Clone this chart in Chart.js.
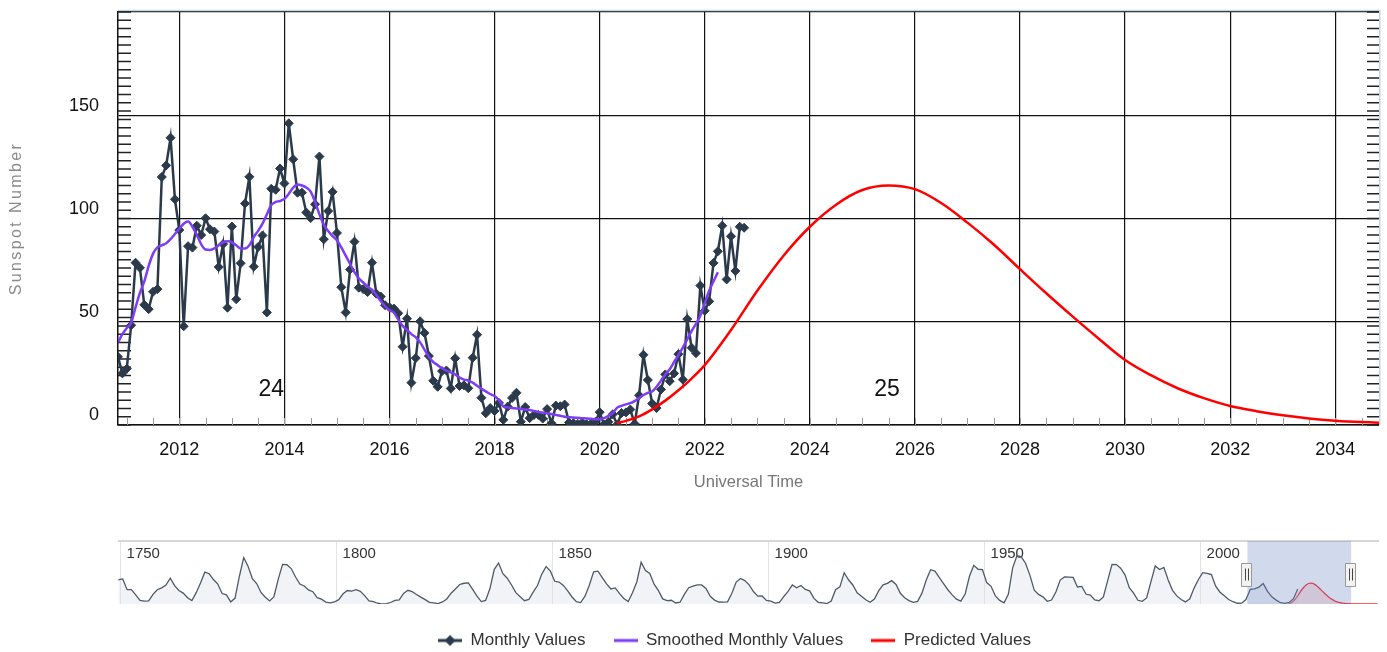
<!DOCTYPE html>
<html><head><meta charset="utf-8">
<script src="https://cdn.jsdelivr.net/npm/chart.js@4/dist/chart.umd.min.js"></script>
<style>
html,body{margin:0;padding:0;background:#fff;overflow:hidden;width:1387px;height:652px;}
#main{position:absolute;left:0;top:0;width:1387px;height:520px;}
#nav{position:absolute;left:0;top:520px;width:1387px;height:139px;}
</style></head><body>
<div id="main"><canvas id="c1"></canvas></div>
<div id="nav"><canvas id="c2"></canvas></div>
<script>
// ---------------- DATA ----------------
const seriesNames = ['Monthly Values', 'Smoothed Monthly Values', 'Predicted Values'];

// Monthly values, first month = Nov 2010
const monthlyStart = [2010, 11];
const monthlyValues = [
  33, 25,
  27.3, 48.3, 78.6, 76.1, 58.2, 56.1, 64.5, 65.8, 120.1, 125.7, 139.1, 109.3,
  94.4, 47.8, 86.6, 85.9, 96.5, 92.0, 100.1, 94.8, 93.7, 76.5, 87.6, 56.8,
  96.1, 60.9, 78.3, 107.3, 120.2, 76.7, 86.2, 91.8, 54.5, 114.4, 113.9, 124.2,
  117.0, 146.1, 128.7, 112.5, 112.5, 102.9, 100.2, 106.9, 130.0, 90.0, 103.6, 112.9,
  93.0, 66.7, 54.5, 75.3, 88.8, 66.5, 65.8, 64.4, 78.6, 63.6, 62.2, 58.0,
  57.0, 56.4, 54.1, 37.9, 51.5, 20.5, 32.4, 50.2, 44.6, 33.4, 21.4, 18.5,
  26.1, 26.4, 17.7, 32.3, 18.9, 19.2, 17.8, 32.6, 43.7, 13.2, 5.7, 8.2,
  6.8, 10.7, 2.5, 8.9, 13.1, 15.6, 1.6, 8.7, 3.3, 4.9, 4.9, 3.1,
  7.7, 0.8, 9.4, 9.1, 9.9, 1.2, 0.9, 0.5, 1.1, 0.4, 0.5, 1.5,
  6.2, 0.2, 1.5, 5.2, 0.2, 5.8, 6.1, 7.5, 0.6, 14.4, 34.0, 21.8,
  10.4, 8.2, 17.2, 24.5, 21.2, 25.0, 34.3, 22.0, 51.3, 37.4, 34.8, 67.5,
  55.3, 59.9, 78.5, 84.1, 96.5, 70.5, 91.4, 74.6, 96.0, 95.5
];

// Smoothed monthly values, first month = Nov 2010
const smoothedStart = [2010, 11];
const smoothedValues = [
  40, 44,
  47, 49.5, 57, 64, 69.5, 77, 83, 86, 87, 88, 90, 92.5,
  95, 97.5, 98.5, 96, 92, 87.5, 85, 84.8, 85.5, 87, 88.5, 89,
  88.5, 87, 85.5, 85.5, 87, 91, 94, 97.5, 102, 106.5, 108, 108.5,
  109.5, 112, 115, 116.5, 116, 115, 113, 108, 102, 97, 94, 91.5,
  89.5, 86, 82, 78, 74, 71, 69, 67, 65.5, 63, 60, 57.5,
  55.5, 54.5, 51, 48, 46, 44, 42.5, 40, 36.5, 33, 30.5, 29,
  27.5, 26.3, 25.5, 24.5, 23, 22, 21.5, 20.5, 19, 17.5, 16.3, 15,
  14, 12, 9, 8.5, 8.2, 8, 7.8, 7.5, 7.3, 6.8, 6.3, 6,
  5.7, 5.3, 4.9, 4.5, 4.0, 3.8, 3.6, 3.5, 3.3, 3.2, 3.0, 2.8,
  2.8, 3.3, 4.4, 5.8, 8.4, 9.3, 10, 10.6, 11.6, 13, 14.5, 15.6,
  16.2, 18.5, 21.5, 24.5, 27, 30.5, 34, 37.5, 41.5, 45.5, 49, 53,
  59, 65, 69.5, 74
];

// Predicted values (decimal years)
const predictedYears = [2020.33, 2020.5, 2020.75, 2021.0, 2021.25, 2021.5, 2021.75, 2022.0, 2022.5, 2023.0,
  2023.5, 2024.0, 2024.5, 2025.0, 2025.5, 2026.0, 2026.5, 2027.0, 2027.5, 2028.0,
  2028.5, 2029.0, 2029.5, 2030.0, 2030.5, 2031.0, 2031.5, 2032.0, 2032.5, 2033.0,
  2033.5, 2034.0, 2034.5, 2035.0, 2036.0, 2037.0, 2038.0, 2039.0, 2040.0, 2041.0];
const predictedValues = [1.0, 2.0, 4.2, 7.6, 11.8, 16.8, 22.5, 29.0, 46, 65,
  82, 96, 106.7, 113.8, 116, 114.2, 107.5, 98, 87.4, 75.5,
  63.8, 52.6, 41.8, 31.5, 24, 17.8, 13, 9.2, 6.7, 4.7,
  3.2, 2.1, 1.4, 1.0, 0.6, 0.4, 0.3, 0.2, 0.2, 0.1];

// Navigator: yearly values from 1749
const historyFirstYear = 1749;
const historyValues = [
  134.7,
  139.0, 79.5, 79.7, 51.2, 20.3, 16.0, 17.0, 54.0, 79.3, 90.0,
  104.8, 143.2, 102.0, 75.2, 60.7, 34.8, 19.0, 63.0, 116.3, 176.8,
  168.0, 136.0, 110.8, 58.0, 51.0, 11.7, 33.0, 154.2, 257.3, 209.8,
  141.3, 113.5, 64.2, 38.0, 17.0, 40.2, 138.2, 220.0, 218.2, 196.8,
  149.8, 111.0, 100.0, 78.2, 68.3, 35.5, 26.7, 10.7, 6.8, 11.3,
  24.2, 56.7, 75.0, 71.8, 79.2, 70.3, 46.8, 16.8, 13.5, 4.2,
  0.0, 2.3, 8.3, 20.3, 23.2, 59.0, 76.3, 68.3, 52.9, 38.5,
  24.2, 9.2, 6.3, 2.2, 11.4, 28.2, 59.9, 83.0, 108.5, 115.2,
  117.4, 80.8, 44.3, 13.4, 19.5, 85.8, 192.7, 227.3, 168.7, 143.0,
  105.5, 63.3, 40.3, 18.1, 25.1, 65.8, 102.7, 166.3, 208.3, 182.5,
  126.3, 122.0, 103.0, 73.0, 39.0, 12.7, 8.2, 43.4, 104.4, 178.3,
  182.2, 146.6, 112.1, 83.5, 89.3, 57.8, 30.7, 13.9, 62.8, 123.6,
  232.0, 185.3, 169.2, 110.1, 74.5, 28.3, 18.9, 20.7, 5.7, 10.0,
  53.7, 90.5, 99.0, 106.1, 105.8, 86.3, 42.4, 21.8, 11.2, 10.4,
  11.8, 59.5, 121.7, 142.0, 130.0, 106.6, 69.4, 43.8, 44.4, 20.2,
  15.7, 4.6, 8.5, 40.8, 70.1, 105.5, 90.1, 102.8, 80.9, 73.2,
  30.9, 9.5, 6.0, 2.4, 16.1, 79.0, 95.0, 173.6, 134.6, 105.7,
  62.7, 43.5, 23.7, 9.7, 27.9, 74.0, 106.5, 114.7, 129.7, 108.2,
  59.4, 35.1, 18.6, 9.2, 14.6, 60.2, 132.8, 190.6, 182.6, 148.0,
  113.0, 79.2, 50.8, 27.1, 16.1, 55.3, 154.3, 214.7, 193.0, 190.7,
  118.9, 98.3, 45.0, 20.1, 6.6, 54.2, 200.7, 269.3, 261.7, 225.1,
  159.0, 76.4, 53.4, 39.9, 15.0, 22.0, 66.8, 132.9, 150.0, 149.4,
  148.0, 94.4, 97.6, 54.1, 49.2, 22.5, 18.4, 39.3, 131.0, 220.1,
  218.9, 198.9, 162.4, 91.0, 60.5, 20.6, 14.8, 33.9, 123.0, 211.1,
  191.8, 203.3, 133.0, 76.1, 44.9, 25.1, 11.6, 28.9, 88.3, 136.3,
  173.9, 170.4, 163.6, 99.3, 65.3, 45.8, 24.7, 12.6, 4.2, 4.8,
  24.9, 80.8, 84.5, 94.0, 113.3, 69.8, 39.8, 21.7, 7.0, 3.6,
  8.8, 29.6, 83.2
];

const xTickYears = [2012, 2014, 2016, 2018, 2020, 2022, 2024, 2026, 2028, 2030, 2032, 2034];
const yTickValues = [0, 50, 100, 150, 200];
const yTickLabels = ['0', '50', '100', '150', ''];
const navTickYears = [1750, 1800, 1850, 1900, 1950, 2000];
const cycleNames = ['24', '25'];
const cycleLabelYears = [2013.75, 2025.47];
const cycleLabelLevel = 17;
const viewRange = [2010.833, 2034.833];
const navRange = [1749.4, 2041.3];

// ---------------- BUILD ----------------
const monthX = (start, i) => start[0] + (start[1] - 1 + i) / 12;
const monthlyPts = monthlyValues.map((v, i) => ({ x: monthX(monthlyStart, i), y: v }));
const smoothedPts = smoothedValues.map((v, i) => ({ x: monthX(smoothedStart, i), y: v }));
const predictedPts = predictedValues.map((v, i) => ({ x: predictedYears[i], y: v }));
const historyPts = historyValues.map((v, i) => ({ x: historyFirstYear + i + 0.5, y: v }));

const COL_MONTHLY = '#2b3a4b';
const COL_SMOOTH = '#7d3cf6';
const COL_PRED = '#ff0000';
const NARROW = "'Liberation Sans Narrow', 'Liberation Sans', Arial, sans-serif";

Chart.defaults.font.family = "'Liberation Sans', Arial, sans-serif";

const noMargins = (s) => { s.paddingTop = 0; s.paddingBottom = 0; s.paddingLeft = 0; s.paddingRight = 0; };

const mainDecor = {
  id: 'mainDecor',
  beforeDraw(chart) {
    const s = chart.scales.y;
    if (s && !s.__spaced) {
      const orig = s.drawTitle;
      s.drawTitle = function () {
        const c = this.ctx; c.save();
        if ('letterSpacing' in c) c.letterSpacing = '2.4px';
        orig.call(this); c.restore();
      };
      s.__spaced = true;
    }
  },
  beforeDatasetsDraw(chart) {
    const { ctx, chartArea: a, scales: { x, y } } = chart;
    ctx.save();
    ctx.strokeStyle = '#c5d3e6'; ctx.lineWidth = 1.5;
    ctx.beginPath();
    ctx.moveTo(a.left, a.top - 1.5); ctx.lineTo(a.right + 0.75, a.top - 1.5); ctx.lineTo(a.right + 0.75, a.bottom);
    ctx.stroke();
    // y minor ticks (inside, both sides)
    ctx.strokeStyle = '#222'; ctx.lineWidth = 1.5;
    ctx.beginPath();
    for (let v = 0; v <= y.max; v += 4) {
      const py = y.getPixelForValue(v);
      ctx.moveTo(a.left, py); ctx.lineTo(a.left + 13, py);
      ctx.moveTo(a.right - 12, py); ctx.lineTo(a.right, py);
    }
    ctx.stroke();
    // x minor ticks
    ctx.strokeStyle = '#999'; ctx.lineWidth = 1;
    ctx.beginPath();
    for (let t = Math.ceil(x.min * 2) / 2; t <= x.max; t += 0.5) {
      const px = Math.round(x.getPixelForValue(t)) + 0.5;
      ctx.moveTo(px, a.bottom); ctx.lineTo(px, a.bottom - 7);
    }
    ctx.stroke();
    // cycle labels
    ctx.font = "23px " + NARROW; ctx.fillStyle = '#111';
    ctx.textAlign = 'center'; ctx.textBaseline = 'middle';
    cycleNames.forEach((n, i) => ctx.fillText(n, x.getPixelForValue(cycleLabelYears[i]), y.getPixelForValue(cycleLabelLevel)));
    ctx.restore();
  }
};

new Chart(document.getElementById('c1'), {
  type: 'line',
  data: {
    datasets: [
      { label: seriesNames[0], data: monthlyPts, order: 2, borderColor: COL_MONTHLY, backgroundColor: COL_MONTHLY,
        borderWidth: 2.5, pointStyle: 'rectRot', pointRadius: 4.5, pointBorderWidth: 1,
        pointBackgroundColor: COL_MONTHLY, pointBorderColor: COL_MONTHLY, tension: 0 },
      { label: seriesNames[1], data: smoothedPts, order: 1, borderColor: COL_SMOOTH, backgroundColor: COL_SMOOTH,
        borderWidth: 2.5, pointRadius: 0, cubicInterpolationMode: 'monotone' },
      { label: seriesNames[2], data: predictedPts, order: 0, borderColor: COL_PRED, backgroundColor: COL_PRED,
        borderWidth: 2.5, pointRadius: 0, cubicInterpolationMode: 'monotone' }
    ]
  },
  options: {
    responsive: true, maintainAspectRatio: false, animation: false, events: [],
    layout: { padding: { top: 12, right: 8, left: 0, bottom: 0 } },
    plugins: { legend: { display: false }, tooltip: { enabled: false } },
    scales: {
      x: {
        type: 'linear', min: viewRange[0], max: viewRange[1],
        afterBuildTicks: (s) => { s.ticks = xTickYears.map(v => ({ value: v })); },
        afterFit: (s) => { s.height = 95; noMargins(s); },
        grid: { color: '#111', lineWidth: 1.2, drawTicks: false },
        border: { display: true, color: '#111', width: 1.5 },
        ticks: { padding: 14, color: '#111', font: { size: 18 }, maxRotation: 0, autoSkip: false,
          callback: (v) => String(v) },
        title: { display: true, text: 'Universal Time', color: '#777', font: { size: 16.5 },
          padding: { top: 0, bottom: 28 } }
      },
      y: {
        type: 'linear', min: 0, max: 200,
        afterBuildTicks: (s) => { s.ticks = yTickValues.map(v => ({ value: v })); },
        afterFit: (s) => { s.width = 118; noMargins(s); },
        grid: { color: '#111', lineWidth: 1.2, drawTicks: false },
        border: { display: true, color: '#111', width: 1.5 },
        ticks: { padding: 19, labelOffset: -9.5, color: '#111', font: { size: 18 },
          callback: (v, i) => yTickLabels[i] },
        title: { display: true, text: 'Sunspot Number', color: '#8a8a8a', font: { size: 16 },
          padding: { top: 7, bottom: 0 } }
      }
    }
  },
  plugins: [mainDecor]
});

// ---------------- NAVIGATOR + LEGEND ----------------
function legendSymbol(color, diamond) {
  const c = document.createElement('canvas'); c.width = 24; c.height = 14;
  const g = c.getContext('2d');
  g.strokeStyle = color; g.lineWidth = 3;
  g.beginPath(); g.moveTo(0, 7); g.lineTo(24, 7); g.stroke();
  if (diamond) {
    g.fillStyle = color; g.beginPath();
    g.moveTo(12, 1.5); g.lineTo(17.5, 7); g.lineTo(12, 12.5); g.lineTo(6.5, 7); g.closePath(); g.fill();
  }
  return c;
}
const symbols = [legendSymbol(COL_MONTHLY, true), legendSymbol(COL_SMOOTH, false), legendSymbol(COL_PRED, false)];

const navDecor = {
  id: 'navDecor',
  beforeDatasetsDraw(chart) {
    const { ctx, chartArea: a, scales: { x } } = chart;
    ctx.save();
    ctx.font = "15px 'Liberation Sans', Arial, sans-serif"; ctx.fillStyle = '#333';
    ctx.textAlign = 'left'; ctx.textBaseline = 'middle';
    navTickYears.forEach(t => ctx.fillText(String(t), x.getPixelForValue(t) + 6, a.top + 13));
    ctx.restore();
  },
  afterDatasetsDraw(chart) {
    const { ctx, chartArea: a, scales: { x } } = chart;
    ctx.save();
    ctx.strokeStyle = '#c8c8c8'; ctx.lineWidth = 1.5;
    ctx.beginPath(); ctx.moveTo(a.left, a.top); ctx.lineTo(a.right, a.top); ctx.stroke();
    const x0 = x.getPixelForValue(viewRange[0]), x1 = x.getPixelForValue(viewRange[1]);
    ctx.fillStyle = 'rgba(102,133,194,0.3)';
    ctx.fillRect(x0, a.top, x1 - x0, a.bottom - a.top);
    const mid = (a.top + a.bottom) / 2 + 2;
    [x0, x1].forEach(hx => {
      ctx.fillStyle = '#f2f2f2'; ctx.strokeStyle = '#999'; ctx.lineWidth = 1;
      ctx.beginPath(); ctx.rect(Math.round(hx) - 5.5, Math.round(mid) - 11.5, 10, 23); ctx.fill(); ctx.stroke();
      ctx.strokeStyle = '#444';
      ctx.beginPath();
      ctx.moveTo(Math.round(hx) - 1.5, mid - 6); ctx.lineTo(Math.round(hx) - 1.5, mid + 6);
      ctx.moveTo(Math.round(hx) + 1.5, mid - 6); ctx.lineTo(Math.round(hx) + 1.5, mid + 6);
      ctx.stroke();
    });
    ctx.restore();
  }
};

new Chart(document.getElementById('c2'), {
  type: 'line',
  data: {
    datasets: [
      { label: 'history', data: historyPts, borderColor: '#4f5a68', borderWidth: 1.3, pointRadius: 0,
        fill: 'origin', backgroundColor: 'rgba(214,221,232,0.35)', tension: 0 },
      { label: 'predicted', data: predictedPts, borderColor: '#ff2a2a', borderWidth: 1.3, pointRadius: 0,
        fill: 'origin', backgroundColor: 'rgba(255,0,0,0.12)', cubicInterpolationMode: 'monotone' }
    ]
  },
  options: {
    responsive: true, maintainAspectRatio: false, animation: false, events: [],
    layout: { padding: { top: 21, right: 8, left: 90, bottom: 0 } },
    plugins: {
      tooltip: { enabled: false },
      legend: {
        display: true, position: 'bottom', onClick: null,
        labels: {
          usePointStyle: true, pointStyleWidth: 24, padding: 28, color: '#333',
          font: { family: NARROW, size: 17 },
          generateLabels: () => seriesNames.map((n, i) => ({
            text: n, pointStyle: symbols[i], fillStyle: 'transparent', strokeStyle: 'transparent',
            lineWidth: 0, hidden: false, datasetIndex: i, fontColor: '#333'
          }))
        }
      }
    },
    scales: {
      x: {
        type: 'linear', min: navRange[0], max: navRange[1],
        afterBuildTicks: (s) => { s.ticks = navTickYears.map(v => ({ value: v })); },
        afterFit: (s) => { s.height = 0; noMargins(s); },
        grid: { color: '#e3e3e3', lineWidth: 1, drawTicks: false },
        border: { display: false },
        ticks: { display: false }
      },
      y: {
        type: 'linear', min: 0, max: 350,
        afterFit: (s) => { s.width = 28; noMargins(s); },
        grid: { display: false }, border: { display: false }, ticks: { display: false }
      }
    }
  },
  plugins: [navDecor]
});
</script>
</body></html>
